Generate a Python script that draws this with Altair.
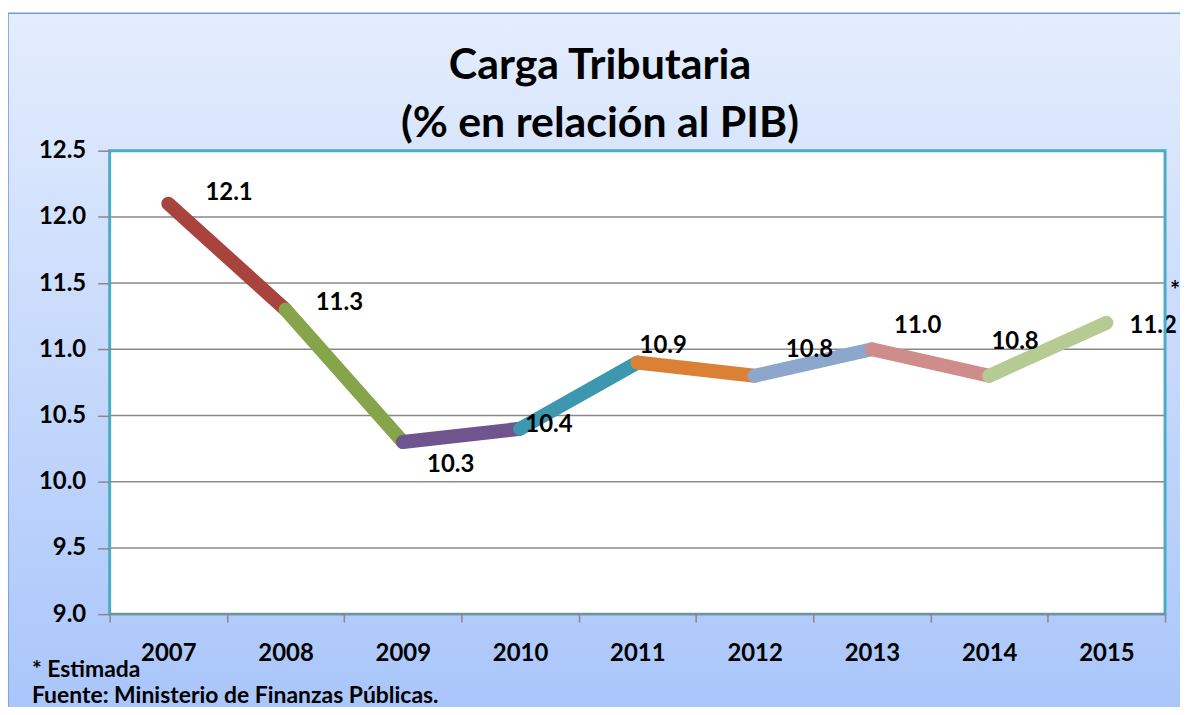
import altair as alt
import pandas as pd

# ---- data ----
years = ["2007", "2008", "2009", "2010", "2011", "2012", "2013", "2014", "2015"]
values = [12.1, 11.3, 10.3, 10.4, 10.9, 10.8, 11.0, 10.8, 11.2]
y_ticks = [9.0, 9.5, 10.0, 10.5, 11.0, 11.5, 12.0, 12.5]
segment_colors = ["#A8433E", "#86A44A", "#6F548E", "#3C97AF",
                  "#DB8136", "#8DA6CC", "#CE8C8A", "#B6CB93"]
title_lines = ["Carga Tributaria", "(% en relación al PIB)"]
note_text = "* Estimada"
source_text = "Fuente: Ministerio de Finanzas  Públicas."

# styling (label offsets in pixels, not data)
label_offsets = [(61, -11), (54, -7), (48, 23), (29, -4), (26, -17),
                 (55, -26), (46, -23), (26, -34), (47, 3)]

W, H = 1059, 465
FONT = "Lato"

seg_rows = []
for i in range(len(years) - 1):
    seg_rows.append({"year": years[i], "value": values[i], "seg": i, "ord": 0})
    seg_rows.append({"year": years[i + 1], "value": values[i + 1], "seg": i, "ord": 1})
seg_df = pd.DataFrame(seg_rows)
pts_df = pd.DataFrame({"year": years, "value": values,
                       "label": [f"{v:.1f}" for v in values]})
grid_df = pd.DataFrame({"value": y_ticks[1:-1]})
one = pd.DataFrame({"k": [0]})

xscale = alt.Scale(type="band", domain=years, paddingInner=0, paddingOuter=0)
yscale = alt.Scale(domain=[9.0, 12.5], nice=False, zero=False)

X = alt.X("year:N", scale=xscale, bandPosition=0.5,
          axis=alt.Axis(title=None, labelAngle=0, tickBand="extent",
                        labelFont=FONT, labelFontSize=24, labelFontWeight="bold",
                        labelColor="black", labelPadding=20, tickColor="#888888",
                        tickWidth=1.5, tickSize=8, domain=False, grid=False,
                        zindex=2))
Y = alt.Y("value:Q", scale=yscale,
          axis=alt.Axis(title=None, values=y_ticks, format=".1f",
                        labelFont=FONT, labelFontSize=24, labelFontWeight="bold",
                        labelColor="black", labelPadding=12, tickColor="#888888",
                        tickWidth=1.5, tickSize=12, domain=False, grid=False,
                        zindex=2))

bg = alt.Chart(one).mark_rect(
    fill=alt.Gradient(gradient="linear", x1=0, y1=0, x2=0, y2=1,
                      stops=[alt.GradientStop(offset=0, color="#E4EDFD"),
                             alt.GradientStop(offset=1, color="#A8C5FA")]),
    stroke="#6E9AD2", strokeWidth=1.5
).encode(x=alt.value(-102), x2=alt.value(W + 120),
         y=alt.value(-138), y2=alt.value(H + 110))

plot_bg = alt.Chart(one).mark_rect(fill="white").encode(
    x=alt.value(0), x2=alt.value(W), y=alt.value(0), y2=alt.value(H))

grid = alt.Chart(grid_df).mark_rule(color="#888888", strokeWidth=1.5).encode(
    y=Y, x=alt.value(0), x2=alt.value(W))

lines = alt.Chart(seg_df).mark_line(strokeWidth=14, strokeCap="round",
                                    strokeJoin="round").encode(
    x=X, y=Y,
    color=alt.Color("seg:N", scale=alt.Scale(domain=list(range(len(segment_colors))),
                                             range=segment_colors), legend=None),
    detail="seg:N", order="ord:Q")

labels = []
for yr, (dx, dy) in zip(years, label_offsets):
    labels.append(
        alt.Chart(pts_df).transform_filter(alt.datum.year == yr).mark_text(
            font=FONT, fontSize=24, fontWeight="bold", color="black",
            align="center", baseline="middle", dx=dx, dy=dy
        ).encode(x=X, y=Y, text="label:N"))

star = alt.Chart(pts_df).transform_filter(alt.datum.year == years[-1]).mark_text(
    font=FONT, fontSize=24, fontWeight="bold", color="black",
    align="center", baseline="middle", dx=69, dy=-31, text="*"
).encode(x=X, y=Y)

border = alt.Chart(one).mark_rect(fill=None, stroke="#4BACC6", strokeWidth=3).encode(
    x=alt.value(0), x2=alt.value(W), y=alt.value(0), y2=alt.value(H))
bottom_line = alt.Chart(one).mark_rule(color="#888888", strokeWidth=2).encode(
    x=alt.value(0), x2=alt.value(W), y=alt.value(H))

t1 = alt.Chart(one).mark_text(font=FONT, fontSize=43, fontWeight="bold", color="black",
                              align="center", baseline="alphabetic", text=title_lines[0]
                              ).encode(x=alt.value(492), y=alt.value(-72))
t2 = alt.Chart(one).mark_text(font=FONT, fontSize=43, fontWeight="bold", color="black",
                              align="center", baseline="alphabetic", text=title_lines[1]
                              ).encode(x=alt.value(492), y=alt.value(-14))
note = alt.Chart(one).mark_text(font=FONT, fontSize=23, fontWeight="bold", color="black",
                                align="left", baseline="alphabetic", text=note_text
                                ).encode(x=alt.value(-78), y=alt.value(528))
src = alt.Chart(one).mark_text(font=FONT, fontSize=23, fontWeight="bold", color="black",
                               align="left", baseline="alphabetic", text=source_text
                               ).encode(x=alt.value(-78), y=alt.value(554))

chart = alt.layer(bg, plot_bg, grid, lines, *labels, star, border, bottom_line,
                  t1, t2, note, src).properties(
    width=W, height=H,
    autosize=alt.AutoSizeParams(type="none"),
    padding={"left": 102, "top": 142, "right": 15, "bottom": 92},
    background="white",
).configure_view(stroke=None)

chart.save("out.html", embed_options={"renderer": "svg", "actions": False})
